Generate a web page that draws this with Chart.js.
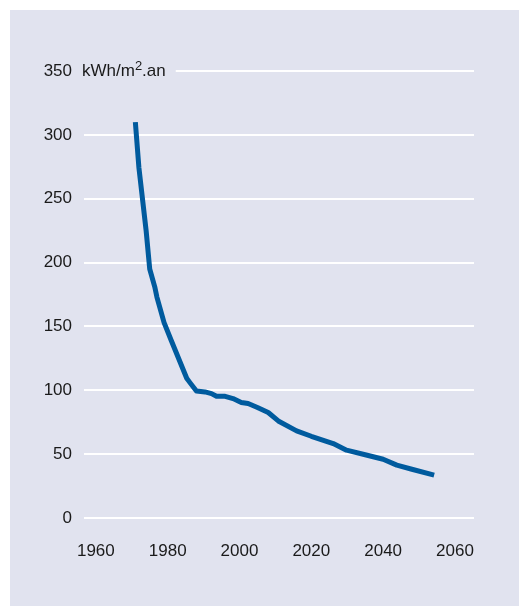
<!DOCTYPE html>
<html>
<head>
<meta charset="utf-8">
<script src="https://cdn.jsdelivr.net/npm/chart.js@4/dist/chart.umd.min.js"></script>
<style>
  html, body { margin: 0; padding: 0; background: #fff; }
  #wrap { position: absolute; left: 0; top: 0; width: 519px; height: 606px; }
</style>
</head>
<body>
<div id="wrap"><canvas id="myChart" width="519" height="606"></canvas></div>
<script>
var years = [1971, 1972, 1974, 1975, 1976.4, 1977, 1979, 1981, 1985.3, 1986.2, 1988, 1990.4, 1992.2, 1993.6, 1996, 1998.2, 2000.5, 2002.4, 2005, 2008, 2010.8, 2015.9, 2020, 2026.1, 2029.8, 2035, 2040, 2043.8, 2048, 2054.2];
var values = [310, 274, 225, 195, 181, 173, 153, 139, 109.4, 106, 99.5, 98.7, 97.4, 95.3, 95.3, 93.5, 90.5, 89.6, 86.5, 82.6, 76, 68.2, 64, 58.3, 53.1, 49.5, 46, 41.4, 38.2, 33.6];
var xTicks = [1960, 1980, 2000, 2020, 2040, 2060];
var yTicks = [0, 50, 100, 150, 200, 250, 300, 350];
var unitLabel = ['kWh/m', '2', '.an'];

var points = years.map(function(y, i) { return {x: y, y: values[i]}; });

var font = 'Liberation Sans, Arial, sans-serif';

// panel background + unit label next to the top tick
var extras = {
  id: 'extras',
  beforeDraw: function(chart) {
    var c = chart.ctx;
    c.save();
    c.fillStyle = '#E1E3EF';
    c.fillRect(10, 10, chart.width - 10, chart.height - 10);
    c.restore();
  },
  afterDraw: function(chart) {
    var c = chart.ctx;
    var ys = chart.scales.y;
    var yp = ys.getPixelForValue(350);
    c.save();
    c.fillStyle = '#1a1a1a';
    c.textBaseline = 'middle';
    c.font = '17px ' + font;
    var x = 82;
    c.fillText(unitLabel[0], x, yp);
    x += c.measureText(unitLabel[0]).width;
    c.font = '13px ' + font;
    c.fillText(unitLabel[1], x, yp - 5);
    x += c.measureText(unitLabel[1]).width;
    c.font = '17px ' + font;
    c.fillText(unitLabel[2], x, yp);
    x += c.measureText(unitLabel[2]).width;
    c.strokeStyle = '#ffffff';
    c.lineWidth = 2;
    c.beginPath();
    c.moveTo(x + 10, yp);
    c.lineTo(chart.chartArea.right, yp);
    c.stroke();
    c.restore();
  }
};

var ctx = document.getElementById('myChart').getContext('2d');
var myChart = new Chart(ctx, {
  type: 'line',
  data: {
    datasets: [{
      data: points,
      borderColor: '#005B9E',
      borderWidth: 5,
      pointRadius: 0,
      tension: 0,
      borderCapStyle: 'butt',
      borderJoinStyle: 'round'
    }]
  },
  options: {
    responsive: false,
    animation: false,
    layout: { padding: { left: 0, right: 45, top: 71, bottom: 0 } },
    plugins: { legend: { display: false }, tooltip: { enabled: false } },
    scales: {
      x: {
        type: 'linear',
        min: 1956.7,
        max: 2065.3,
        afterBuildTicks: function(scale) {
          scale.ticks = xTicks.map(function(v) { return {value: v}; });
        },
        afterFit: function(scale) { scale.height = 88; },
        grid: { display: false, drawTicks: false },
        border: { display: false },
        ticks: {
          padding: 23,
          maxRotation: 0,
          autoSkip: false,
          color: '#1a1a1a',
          font: { family: font, size: 17 },
          callback: function(v) { return String(v); }
        }
      },
      y: {
        min: 0,
        max: 350,
        afterBuildTicks: function(scale) {
          scale.ticks = yTicks.map(function(v) { return {value: v}; });
        },
        afterFit: function(scale) { scale.width = 84; },
        grid: {
          drawTicks: false,
          lineWidth: 2,
          color: function(c) { return c.tick && c.tick.value === 350 ? 'rgba(0,0,0,0)' : '#ffffff'; }
        },
        border: { display: false },
        ticks: {
          padding: 12,
          color: '#1a1a1a',
          font: { family: font, size: 17 }
        }
      }
    }
  },
  plugins: [extras]
});
</script>
</body>
</html>
